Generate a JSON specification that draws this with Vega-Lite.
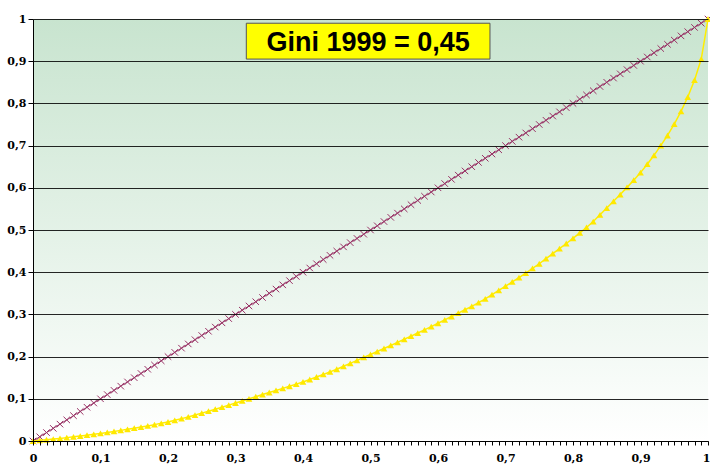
{
  "$schema": "https://vega.github.io/schema/vega-lite/v6.json",
  "width": 675,
  "height": 422,
  "autosize": {"type": "none"},
  "padding": {"left": 33, "top": 19, "right": 2, "bottom": 23},
  "background": "#ffffff",
  "config": {
    "view": {"stroke": null},
    "axis": {
      "domainColor": "#000000",
      "tickColor": "#000000",
      "labelFont": "DejaVu Serif",
      "labelFontWeight": "bold",
      "labelFontSize": 11,
      "labelColor": "#000000",
      "title": null
    }
  },
  "datasets": {
    "lorenz": [
      {"x":0,"l":0},{"x":0.01,"l":0.0015},{"x":0.02,"l":0.003},{"x":0.03,"l":0.0046},{"x":0.04,"l":0.0062},
      {"x":0.05,"l":0.008},{"x":0.06,"l":0.0098},{"x":0.07,"l":0.0117},{"x":0.08,"l":0.0137},{"x":0.09,"l":0.0158},
      {"x":0.1,"l":0.018},{"x":0.11,"l":0.0203},{"x":0.12,"l":0.0227},{"x":0.13,"l":0.0252},{"x":0.14,"l":0.0277},
      {"x":0.15,"l":0.0303},{"x":0.16,"l":0.033},{"x":0.17,"l":0.0358},{"x":0.18,"l":0.0388},{"x":0.19,"l":0.0418},
      {"x":0.2,"l":0.045},{"x":0.21,"l":0.049},{"x":0.22,"l":0.053},{"x":0.23,"l":0.057},{"x":0.24,"l":0.0615},
      {"x":0.25,"l":0.066},{"x":0.26,"l":0.0707},{"x":0.27,"l":0.0754},{"x":0.28,"l":0.0801},{"x":0.29,"l":0.085},
      {"x":0.3,"l":0.09},{"x":0.31,"l":0.095},{"x":0.32,"l":0.1},{"x":0.33,"l":0.105},{"x":0.34,"l":0.11},
      {"x":0.35,"l":0.115},{"x":0.36,"l":0.1198},{"x":0.37,"l":0.1247},{"x":0.38,"l":0.1297},{"x":0.39,"l":0.1348},
      {"x":0.4,"l":0.14},{"x":0.41,"l":0.1458},{"x":0.42,"l":0.1517},{"x":0.43,"l":0.1577},{"x":0.44,"l":0.1638},
      {"x":0.45,"l":0.17},{"x":0.46,"l":0.177},{"x":0.47,"l":0.184},{"x":0.48,"l":0.191},{"x":0.49,"l":0.198},
      {"x":0.5,"l":0.205},{"x":0.51,"l":0.212},{"x":0.52,"l":0.2192},{"x":0.53,"l":0.2264},{"x":0.54,"l":0.2337},
      {"x":0.55,"l":0.241},{"x":0.56,"l":0.2484},{"x":0.57,"l":0.2558},{"x":0.58,"l":0.2633},{"x":0.59,"l":0.271},
      {"x":0.6,"l":0.279},{"x":0.61,"l":0.287},{"x":0.62,"l":0.295},{"x":0.63,"l":0.303},{"x":0.64,"l":0.311},
      {"x":0.65,"l":0.319},{"x":0.66,"l":0.328},{"x":0.67,"l":0.337},{"x":0.68,"l":0.347},{"x":0.69,"l":0.357},
      {"x":0.7,"l":0.367},{"x":0.71,"l":0.377},{"x":0.72,"l":0.387},{"x":0.73,"l":0.398},{"x":0.74,"l":0.409},
      {"x":0.75,"l":0.42},{"x":0.76,"l":0.432},{"x":0.77,"l":0.444},{"x":0.78,"l":0.456},{"x":0.79,"l":0.468},
      {"x":0.8,"l":0.48},{"x":0.81,"l":0.493},{"x":0.82,"l":0.506},{"x":0.83,"l":0.52},{"x":0.84,"l":0.536},
      {"x":0.85,"l":0.552},{"x":0.86,"l":0.568},{"x":0.87,"l":0.584},{"x":0.88,"l":0.601},{"x":0.89,"l":0.618},
      {"x":0.9,"l":0.636},{"x":0.91,"l":0.656},{"x":0.92,"l":0.677},{"x":0.93,"l":0.7},{"x":0.94,"l":0.724},
      {"x":0.95,"l":0.751},{"x":0.96,"l":0.781},{"x":0.97,"l":0.815},{"x":0.98,"l":0.855},{"x":0.99,"l":0.905},
      {"x":1,"l":1}
    ]
  },
  "layer": [
    {
      "data": {"values": [{"x": 0, "x2": 1, "y": 0, "y2": 1}]},
      "mark": {
        "type": "rect",
        "color": {
          "gradient": "linear",
          "x1": 0, "y1": 0, "x2": 0, "y2": 1,
          "stops": [
            {"offset": 0, "color": "#c8e4cf"},
            {"offset": 1, "color": "#ffffff"}
          ]
        }
      },
      "encoding": {
        "x": {
          "field": "x", "type": "quantitative",
          "scale": {"domain": [0, 1], "nice": false, "zero": false},
          "axis": {
            "values": [0,0.01,0.02,0.03,0.04,0.05,0.06,0.07,0.08,0.09,0.1,0.11,0.12,0.13,0.14,0.15,0.16,0.17,0.18,0.19,0.2,0.21,0.22,0.23,0.24,0.25,0.26,0.27,0.28,0.29,0.3,0.31,0.32,0.33,0.34,0.35,0.36,0.37,0.38,0.39,0.4,0.41,0.42,0.43,0.44,0.45,0.46,0.47,0.48,0.49,0.5,0.51,0.52,0.53,0.54,0.55,0.56,0.57,0.58,0.59,0.6,0.61,0.62,0.63,0.64,0.65,0.66,0.67,0.68,0.69,0.7,0.71,0.72,0.73,0.74,0.75,0.76,0.77,0.78,0.79,0.8,0.81,0.82,0.83,0.84,0.85,0.86,0.87,0.88,0.89,0.9,0.91,0.92,0.93,0.94,0.95,0.96,0.97,0.98,0.99,1],
            "tickCount": 200,
            "labelExpr": "round(datum.value*100) % 10 != 0 ? '' : (datum.value == 0 ? '0' : (datum.value == 1 ? '1' : replace(format(datum.value, '.1f'), '.', ',')))",
            "labelAlign": {"condition": {"test": "datum.value >= 1", "value": "right"}, "value": "center"},
            "labelOffset": {"condition": {"test": "datum.value >= 1", "value": 2}, "value": 0},
            "tickSize": 4,
            "labelPadding": 7,
            "labelOverlap": false,
            "labelFlush": false,
            "grid": false,
            "zindex": 1
          }
        },
        "x2": {"field": "x2"},
        "y": {
          "field": "y", "type": "quantitative",
          "scale": {"domain": [0, 1], "nice": false, "zero": false},
          "axis": {
            "values": [0, 0.1, 0.2, 0.3, 0.4, 0.5, 0.6, 0.7, 0.8, 0.9, 1],
            "tickCount": 20,
            "labelExpr": "datum.value == 0 ? '0' : (datum.value == 1 ? '1' : replace(format(datum.value, '.1f'), '.', ','))",
            "tickSize": 5,
            "labelPadding": 2,
            "labelFlush": false,
            "labelOverlap": false,
            "grid": true,
            "gridColor": "#000000",
            "gridOpacity": 0.85,
            "gridWidth": 1,
            "zindex": 1
          }
        },
        "y2": {"field": "y2"}
      }
    },
    {
      "data": {"name": "lorenz"},
      "mark": {"type": "line", "color": "#993366", "strokeWidth": 1},
      "encoding": {
        "x": {"field": "x", "type": "quantitative"},
        "y": {"field": "x", "type": "quantitative"}
      }
    },
    {
      "data": {"name": "lorenz"},
      "mark": {"type": "point", "shape": "M-1,-1L1,1M-1,1L1,-1", "filled": false, "stroke": "#993366", "strokeWidth": 1, "size": 42, "opacity": 1},
      "encoding": {
        "x": {"field": "x", "type": "quantitative"},
        "y": {"field": "x", "type": "quantitative"}
      }
    },
    {
      "data": {"name": "lorenz"},
      "mark": {"type": "line", "color": "#ffee00", "strokeWidth": 1.5},
      "encoding": {
        "x": {"field": "x", "type": "quantitative"},
        "y": {"field": "l", "type": "quantitative"}
      }
    },
    {
      "data": {"name": "lorenz"},
      "mark": {"type": "point", "shape": "triangle-up", "filled": true, "fill": "#ffe800", "strokeWidth": 0, "size": 45, "opacity": 1},
      "encoding": {
        "x": {"field": "x", "type": "quantitative"},
        "y": {"field": "l", "type": "quantitative"}
      }
    },
    {
      "data": {"values": [{"x": 0.316, "x2": 0.677, "y": 0.905, "y2": 0.99}]},
      "mark": {"type": "rect", "fill": "#ffff00", "stroke": "#555555", "strokeWidth": 1},
      "encoding": {
        "x": {"field": "x", "type": "quantitative"},
        "x2": {"field": "x2"},
        "y": {"field": "y", "type": "quantitative"},
        "y2": {"field": "y2"}
      }
    },
    {
      "data": {"values": [{"x": 0.4965, "y": 0.946, "t": "Gini 1999 = 0,45"}]},
      "mark": {"type": "text", "font": "Liberation Sans", "fontWeight": "bold", "fontSize": 27, "color": "#000000", "align": "center", "baseline": "middle", "dy": 1},
      "encoding": {
        "x": {"field": "x", "type": "quantitative"},
        "y": {"field": "y", "type": "quantitative"},
        "text": {"field": "t"}
      }
    }
  ]
}
